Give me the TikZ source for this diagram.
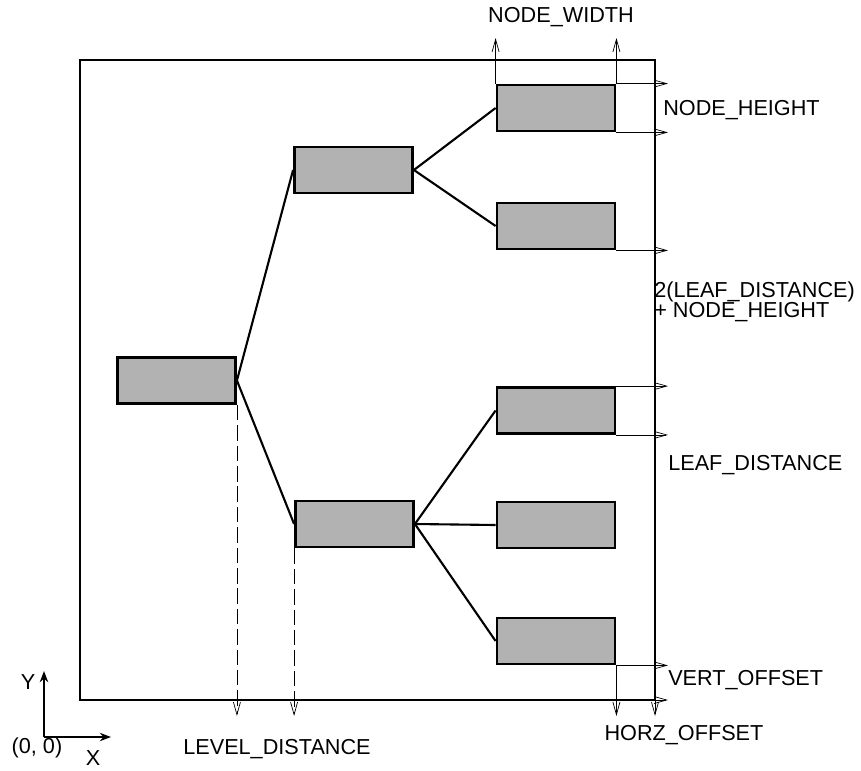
\documentclass[tikz,border=0pt]{standalone}
\usepackage{fontspec}
\setmainfont{Liberation Sans}
\usetikzlibrary{positioning,calc,arrows.meta}

\begin{document}
\begin{tikzpicture}[x=0.025cm, y=-0.025cm,
  treenode/.style={draw, line width=2pt, fill=gray!60, minimum width=2.95cm, minimum height=1.15cm, inner sep=0pt},
  edge/.style={line width=1.5pt},
  dimline/.style={line width=0.5pt, -{Straight Barb[length=9pt,width=5pt]}},
  axis/.style={line width=1.5pt, -{Stealth[length=8pt,width=6pt]}},
  txt/.style={font=\fontsize{15.4}{14}\selectfont, inner sep=0pt}]
\useasboundingbox (0,0) rectangle (861,770);

% Frame
\coordinate (frameNW) at (80,60);
\coordinate (frameSE) at (655,700);
\draw[line width=1.6pt] (frameNW) rectangle (frameSE);

% Tree nodes
\node[treenode] (root) at (176.5,380.5) {};
\node[treenode] (mid1) at (353.5,170) {};
\node[treenode] (mid2) at (354.5,524) {};
\node[treenode] (leaf1) at (556,108) {};
\node[treenode] (leaf2) at (556,226) {};
\node[treenode] (leaf3) at (556,410.5) {};
\node[treenode] (leaf4) at (556,525) {};
\node[treenode] (leaf5) at (556,641) {};

% Branches
\draw[edge] (root.east) -- (mid1.west);
\draw[edge] (root.east) -- (mid2.west);
\draw[edge] (mid1.east) -- (leaf1.west);
\draw[edge] (mid1.east) -- (leaf2.west);
\draw[edge] (mid2.east) -- (leaf3.west);
\draw[edge] (mid2.east) -- (leaf4.west);
\draw[edge] (mid2.east) -- (leaf5.west);

% Dimension marks
\coordinate (topmark) at (0,38);
\coordinate (rightmark) at (668,0);
\coordinate (botmark) at (0,716);
\draw[dimline] (leaf1.north west) -- (leaf1.north west |- topmark);
\draw[dimline] (leaf1.north east) -- (leaf1.north east |- topmark);
\draw[dimline] (leaf1.north east) -- (leaf1.north east -| rightmark);
\draw[dimline] (leaf1.south east) -- (leaf1.south east -| rightmark);
\draw[dimline] (leaf2.south east) -- (leaf2.south east -| rightmark);
\draw[dimline] (leaf3.north east) -- (leaf3.north east -| rightmark);
\draw[dimline] (leaf3.south east) -- (leaf3.south east -| rightmark);
\draw[dimline] (leaf5.south east) -- (leaf5.south east -| rightmark);
\draw[dimline] (frameSE) -- (frameSE -| rightmark);
\draw[dimline] (leaf5.south east) -- (leaf5.south east |- botmark);
\draw[dimline] (frameSE) -- (frameSE |- botmark);
\draw[dimline, dash pattern=on 11pt off 3.5pt] (root.south east) -- (root.south east |- botmark);
\draw[dimline, dash pattern=on 11pt off 3.5pt] (mid2.south west) -- (mid2.south west |- botmark);

% Axes
\coordinate (origin) at (44,737);
\coordinate (xend) at (111,737);
\coordinate (yend) at (44,671);
\draw[axis] (origin) -- (xend);
\draw[axis] (origin) -- (yend);

% Labels
\node[txt] (lblwidth) at (561,17) {NODE\_WIDTH};
\node[txt, anchor=west] (lblheight) at (663,110) {NODE\_HEIGHT};
\node[txt, anchor=west, align=left] (lbltwo) at (654,302) {2(LEAF\_DISTANCE)\\+ NODE\_HEIGHT};
\node[txt, anchor=west] (lblleaf) at (668,465) {LEAF\_DISTANCE};
\node[txt, anchor=west] (lblvert) at (668,680) {VERT\_OFFSET};
\node[txt] (lblhorz) at (684,735) {HORZ\_OFFSET};
\node[txt] (lbllevel) at (277,749) {LEVEL\_DISTANCE};
\node[txt] (lblx) at (93,758) {X};
\node[txt] (lbly) at (28,682) {Y};
\node[txt] (lblorigin) at (37,748) {(0, 0)};
\end{tikzpicture}
\end{document}
